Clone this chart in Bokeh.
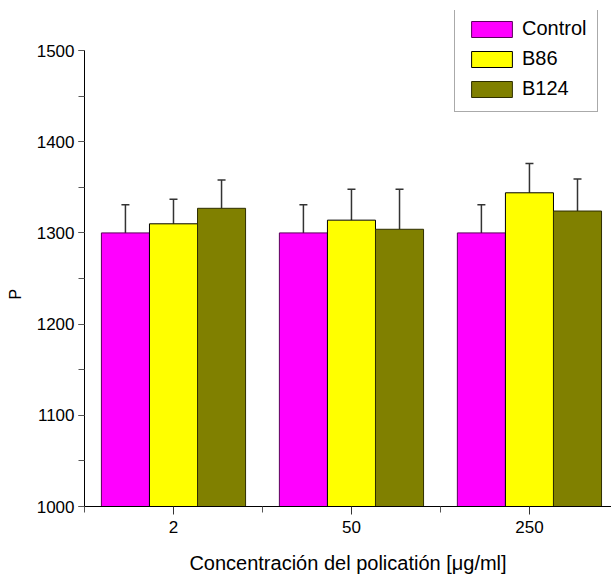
from bokeh.plotting import figure
from bokeh.models import (Range1d, FixedTicker, SingleIntervalTicker, ColumnDataSource,
                          Whisker, TeeHead, Legend, LegendItem)
from bokeh.embed import file_html
from bokeh.resources import INLINE

concentrations = ["2", "50", "250"]
series_names = ["Control", "B86", "B124"]
control = [1300, 1300, 1300]
control_err = [31, 31, 31]
b86 = [1310, 1314, 1344]
b86_err = [27, 34, 32]
b124 = [1327, 1304, 1324]
b124_err = [31, 44, 35]
y_axis_min, y_axis_max = 1000, 1500

series_values = [control, b86, b124]
series_errors = [control_err, b86_err, b124_err]
fill_colors = ["#FF00FF", "#FFFF00", "#808000"]
line_colors = ["#5a005a", "#000000", "#2e2e00"]
bar_w = 0.27
offsets = [-bar_w, 0.0, bar_w]

FONT = "Liberation Sans"

p = figure(width=611, height=577,
           x_range=Range1d(0.5, 3.461), y_range=Range1d(y_axis_min, 1543.9),
           output_backend="svg", toolbar_location=None,
           min_border_left=84, min_border_right=0, min_border_top=10, min_border_bottom=71)
p.outline_line_color = None
p.xgrid.grid_line_color = None
p.ygrid.grid_line_color = None

xs_base = list(range(1, len(concentrations) + 1))
renderers = []
for name, vals, errs, fc, lc, off in zip(series_names, series_values, series_errors,
                                         fill_colors, line_colors, offsets):
    src = ColumnDataSource(dict(
        x=[b + off for b in xs_base],
        top=vals,
        upper=[v + e for v, e in zip(vals, errs)],
    ))
    r = p.vbar(x="x", top="top", bottom=y_axis_min, width=bar_w, source=src,
               fill_color=fc, line_color=lc, line_width=1)
    renderers.append((name, r))
    w = Whisker(base="x", upper="upper", lower="top", source=src,
                lower_head=None, upper_head=TeeHead(size=8, line_color="#333333", line_width=1.5),
                line_color="#333333", line_width=1.5)
    p.add_layout(w)

# x axis
p.xaxis.ticker = FixedTicker(ticks=xs_base, minor_ticks=[b - 0.5 for b in xs_base] + [xs_base[-1] + 0.5])
p.xaxis.major_label_overrides = {b: c for b, c in zip(xs_base, concentrations)}
p.xaxis.axis_label = "Concentración del policatión [μg/ml]"
# y axis
p.yaxis.ticker = SingleIntervalTicker(interval=100, num_minor_ticks=2)
p.yaxis.bounds = (y_axis_min, y_axis_max)
p.yaxis.axis_label = "P" + "\u00a0" * 16

for ax in (p.xaxis[0], p.yaxis[0]):
    ax.axis_line_color = "black"
    ax.axis_line_width = 1
    ax.major_tick_line_color = "#333333"
    ax.minor_tick_line_color = "#555555"
    ax.major_tick_in = 0
    ax.minor_tick_in = 0
    ax.major_label_text_font = FONT
    ax.major_label_text_font_size = "17px"
    ax.major_label_text_color = "black"
    ax.axis_label_text_font = FONT
    ax.axis_label_text_font_style = "normal"
    ax.axis_label_text_color = "black"

p.xaxis.major_tick_out = 8
p.xaxis.minor_tick_out = 6
p.xaxis.axis_label_text_font_size = "20px"
p.xaxis.major_label_standoff = 6
p.xaxis.axis_label_standoff = 16
p.yaxis.major_tick_out = 6
p.yaxis.minor_tick_out = 6
p.yaxis.axis_label_text_font_size = "16px"
p.yaxis.major_label_standoff = 4
p.yaxis.axis_label_standoff = 10

legend = Legend(items=[LegendItem(label=n, renderers=[r]) for n, r in renderers],
                location=(370, 394))
legend.label_text_font = FONT
legend.label_text_font_size = "20px"
legend.label_text_color = "black"
legend.glyph_width = 51
legend.glyph_height = 20
legend.label_height = 20
legend.label_standoff = 5
legend.spacing = 7
legend.padding = 11
legend.margin = 0
legend.border_line_color = "#555555"
legend.border_line_width = 1
legend.background_fill_color = "white"
legend.background_fill_alpha = 1
p.add_layout(legend)

open("out.html", "w").write(file_html(p, INLINE))
